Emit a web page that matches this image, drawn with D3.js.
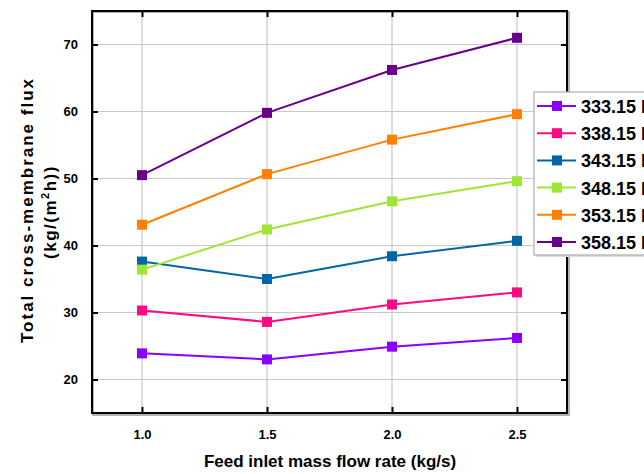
<!DOCTYPE html>
<html><head><meta charset="utf-8">
<script src="https://cdn.jsdelivr.net/npm/d3@7"></script>
<style>
html,body{margin:0;padding:0;background:#fff;}
svg{display:block;}
text{font-family:"Liberation Sans",Arial,sans-serif;}
</style></head>
<body><svg id="c" width="644" height="474"></svg>
<script>
const flowRates = [1.0, 1.5, 2.0, 2.5];
const seriesNames = ["333.15 K","338.15 K","343.15 K","348.15 K","353.15 K","358.15 K"];
const s333 = [23.9, 23.0, 24.9, 26.2];
const s338 = [30.3, 28.6, 31.2, 33.0];
const s343 = [37.6, 35.0, 38.4, 40.7];
const s348 = [36.4, 42.4, 46.6, 49.6];
const s353 = [43.1, 50.65, 55.8, 59.6];
const s358 = [50.5, 59.8, 66.2, 71.0];
const seriesColors = ["#8a00ff","#ff0a82","#0066a8","#9ee635","#ff8000","#6a008a"];
const xTicks = [1.0, 1.5, 2.0, 2.5];
const yTicks = [20, 30, 40, 50, 60, 70];

const seriesValues = [s333, s338, s343, s348, s353, s358];
const svg = d3.select("#c");
const L = 92, T = 11, R = 567, B = 413;
const x = d3.scaleLinear().domain([0.8, 2.7]).range([L, R]);
const y = d3.scaleLinear().domain([15, 75]).range([B, T]);

// frame shadow
svg.append("rect").attr("x", L+1).attr("y", T+1).attr("width", R-L+1).attr("height", B-T+1)
  .attr("fill", "none").attr("stroke", "#999").attr("stroke-width", 1.5);

// grid
const g = svg.append("g");
g.selectAll("line.gy").data(yTicks).join("line").attr("class","gy")
  .attr("x1", L).attr("x2", R).attr("y1", d=>y(d)).attr("y2", d=>y(d))
  .attr("stroke", "#c8c8c8").attr("stroke-width", 1.2);
g.selectAll("line.gx").data(xTicks).join("line").attr("class","gx")
  .attr("y1", T).attr("y2", B).attr("x1", d=>x(d)).attr("x2", d=>x(d))
  .attr("stroke", "#c8c8c8").attr("stroke-width", 1.2);

// axes with inward ticks
const axL = svg.append("g").attr("transform", `translate(${L},0)`)
  .call(d3.axisLeft(y).tickValues(yTicks).tickSize(-6).tickPadding(14).tickFormat(d3.format("d")));
const axR = svg.append("g").attr("transform", `translate(${R},0)`)
  .call(d3.axisRight(y).tickValues(yTicks).tickSize(-6).tickFormat(""));
const axB = svg.append("g").attr("transform", `translate(0,${B})`)
  .call(d3.axisBottom(x).tickValues(xTicks).tickSize(-6).tickPadding(17).tickFormat(d3.format(".1f")));
const axT = svg.append("g").attr("transform", `translate(0,${T})`)
  .call(d3.axisTop(x).tickValues(xTicks).tickSize(-6).tickFormat(""));
[axL, axR, axB, axT].forEach(a => {
  a.select(".domain").remove();
  a.selectAll(".tick line").attr("stroke", "#000").attr("stroke-width", 2);
  a.selectAll(".tick text").attr("fill", "#000").style("font-size", "13px").style("font-weight", "bold");
});

// frame
svg.append("rect").attr("x", L).attr("y", T).attr("width", R-L).attr("height", B-T)
  .attr("fill", "none").attr("stroke", "#000").attr("stroke-width", 2);

// series
const line = d3.line().x((d,i)=>x(flowRates[i])).y(d=>y(d));
seriesValues.forEach((vals, si) => {
  const c = seriesColors[si];
  svg.append("path").datum(vals).attr("d", line).attr("fill", "none")
    .attr("stroke", c).attr("stroke-width", 2);
  svg.selectAll(null).data(vals).join("rect")
    .attr("x", (d,i)=>x(flowRates[i])-5).attr("y", d=>y(d)-5)
    .attr("width", 10).attr("height", 10).attr("fill", c);
});

// axis titles
svg.append("text").attr("x", 330).attr("y", 467).attr("text-anchor", "middle")
  .style("font-size", "17px").style("font-weight", "bold").text("Feed inlet mass flow rate (kg/s)");
const yt = svg.append("g").attr("transform", "translate(33,210) rotate(-90)");
yt.append("text").attr("x", 0).attr("y", 0).attr("text-anchor", "middle")
  .style("font-size", "17px").style("font-weight", "bold").style("letter-spacing", "2px")
  .text("Total cross-membrane flux");
const t2 = yt.append("text").attr("x", -2).attr("y", 23).attr("text-anchor", "middle")
  .style("font-size", "17px").style("font-weight", "bold").style("letter-spacing", "1.5px");
t2.append("tspan").text("(kg/(m");
t2.append("tspan").attr("dy", -7).style("font-size", "11px").text("2");
t2.append("tspan").attr("dy", 7).text("h))");

// legend
const lgX = 534, lgY = 92, lgH = 163;
svg.append("rect").attr("x", lgX+2).attr("y", lgY+2).attr("width", 130).attr("height", lgH)
  .attr("fill", "#ddd");
svg.append("rect").attr("x", lgX).attr("y", lgY).attr("width", 130).attr("height", lgH)
  .attr("fill", "#fff").attr("stroke", "#b0b0b0").attr("stroke-width", 1.2);
const rowY = d3.scalePoint().domain(seriesNames).range([106, 242]);
seriesNames.forEach((nm, si) => {
  const c = seriesColors[si];
  const yy = rowY(nm);
  svg.append("line").attr("x1", 537).attr("x2", 576).attr("y1", yy).attr("y2", yy)
    .attr("stroke", c).attr("stroke-width", 2);
  svg.append("rect").attr("x", 552).attr("y", yy-5).attr("width", 10).attr("height", 10).attr("fill", c);
  svg.append("text").attr("x", 581).attr("y", yy+7).style("font-size", "18px")
    .style("font-weight", "bold").attr("fill", "#000").text(nm);
});
</script></body></html>
